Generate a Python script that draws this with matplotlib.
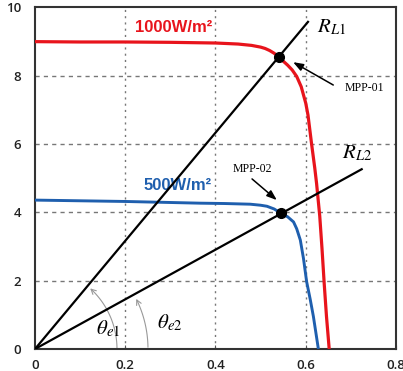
import numpy as np
import matplotlib
matplotlib.use('Agg')
import matplotlib.pyplot as plt

# ---- data ----
v_1000 = [0.00, 0.10, 0.20, 0.30, 0.40, 0.45, 0.48, 0.50, 0.51, 0.52, 0.53, 0.54,
          0.55, 0.56, 0.57, 0.58, 0.59, 0.60, 0.605, 0.613, 0.62, 0.624, 0.631, 0.636,
          0.641, 0.646, 0.652]
i_1000 = [9.00, 8.99, 8.99, 8.98, 8.96, 8.93, 8.89, 8.84, 8.80, 8.74, 8.66, 8.55,
          8.43, 8.31, 8.17, 7.98, 7.68, 7.20, 6.85, 6.00, 5.30, 4.85, 3.90, 2.95,
          1.90, 0.95, 0.00]
v_500 = [0.00, 0.10, 0.20, 0.30, 0.366, 0.42, 0.477, 0.50, 0.514, 0.53, 0.546, 0.56,
         0.573, 0.58, 0.588, 0.595, 0.602, 0.61, 0.617, 0.628]
i_500 = [4.36, 4.34, 4.32, 4.29, 4.27, 4.26, 4.24, 4.21, 4.18, 4.10, 3.97, 3.87,
         3.72, 3.52, 3.19, 2.65, 1.97, 1.45, 0.95, 0.00]
mpp_v = [0.540, 0.546]
mpp_i = [8.55, 3.97]
load_end_v = [0.605, 0.724]
curve_labels = ['1000W/m²', '500W/m²']
load_labels = [r'$R_{L1}$', r'$R_{L2}$']
angle_labels = [r'$\theta_{e1}$', r'$\theta_{e2}$']
mpp_labels = ['MPP-01', 'MPP-02']
x_ticks = [0, 0.2, 0.4, 0.6, 0.8]
y_ticks = [0, 2, 4, 6, 8, 10]

RED = '#e8141c'
BLUE = '#1f5fae'

plt.rcParams['mathtext.fontset'] = 'stix'

fig = plt.figure(figsize=(4.03, 3.71), dpi=100)
ax = fig.add_axes([0.0868, 0.0593, 0.8958, 0.9205])
ax.set_xlim(0, 0.8)
ax.set_ylim(0, 10)

# grid
for xv in x_ticks[1:-1]:
    ax.axvline(xv, color='#777777', lw=1.0, ls=(0, (1.5, 3)), zorder=0)
for yv in y_ticks[1:-1]:
    ax.axhline(yv, color='#777777', lw=1.0, ls=(0, (3, 3)), zorder=0)

# curves
ax.plot(v_1000, i_1000, color=RED, lw=2.3, solid_capstyle='butt', zorder=3)
ax.plot(v_500, i_500, color=BLUE, lw=2.1, solid_capstyle='butt', zorder=3)

# load lines through the MPPs
for mv, mi, ev in zip(mpp_v, mpp_i, load_end_v):
    ax.plot([0, ev], [0, ev * mi / mv], color='black', lw=1.6, zorder=4)
ax.plot(mpp_v, mpp_i, 'o', color='black', ms=7, zorder=5)

# curve labels
ax.text(0.392, 9.40, curve_labels[0], color=RED, fontsize=12, fontweight='bold',
        family='Liberation Sans', ha='right', va='center')
ax.text(0.392, 4.80, curve_labels[1], color=BLUE, fontsize=12, fontweight='bold',
        family='Liberation Sans', ha='right', va='center')

# load line labels
ax.text(0.624, 9.43, load_labels[0], fontsize=15, ha='left', va='center')
ax.text(0.680, 5.74, load_labels[1], fontsize=15, ha='left', va='center')

# angle labels
ax.text(0.135, 0.61, angle_labels[0], fontsize=15, ha='left', va='center')
ax.text(0.270, 0.76, angle_labels[1], fontsize=15, ha='left', va='center')

# MPP annotations
ax.annotate('', xy=(0.572, 8.40), xytext=(0.661, 7.73),
            arrowprops=dict(arrowstyle='-|>,head_length=0.6,head_width=0.22',
                            color='black', lw=1.1, shrinkA=0, shrinkB=0))
ax.text(0.687, 7.64, mpp_labels[0], fontsize=8.5, family='Liberation Serif',
        ha='left', va='center')
ax.annotate('', xy=(0.536, 4.36), xytext=(0.481, 4.98),
            arrowprops=dict(arrowstyle='-|>,head_length=0.6,head_width=0.22',
                            color='black', lw=1.1, shrinkA=0, shrinkB=0))
ax.text(0.481, 5.27, mpp_labels[1], fontsize=8.5, family='Liberation Serif',
        ha='center', va='center')

# angle arcs (circular in display space)
fig.canvas.draw()
o = ax.transData.transform((0, 0))
inv = ax.transData.inverted()
for mv, mi, r in zip(mpp_v, mpp_i, [82, 113]):
    p = ax.transData.transform((mv, mi))
    ang = np.arctan2(p[1] - o[1], p[0] - o[0]) - np.radians(2.5)
    t = np.linspace(np.radians(1), ang, 60)
    pts = np.column_stack([o[0] + r * np.cos(t), o[1] + r * np.sin(t)])
    d = inv.transform(pts)
    ax.plot(d[:-3, 0], d[:-3, 1], color='#999999', lw=0.8, zorder=2)
    ax.annotate('', xy=d[-1], xytext=d[-4],
                arrowprops=dict(arrowstyle='->,head_length=0.35,head_width=0.18',
                                color='#999999', lw=0.8, shrinkA=0, shrinkB=0))

# axes styling
ax.set_xticks(x_ticks)
ax.set_yticks(y_ticks)
ax.set_xticklabels(['0', '0.2', '0.4', '0.6', '0.8'])
ax.set_yticklabels([str(v) for v in y_ticks])
ax.tick_params(axis='x', direction='in', length=3, color='#555555', pad=7,
               labelsize=9.5, labelcolor='#222222')
ax.tick_params(axis='y', direction='in', length=0, pad=10,
               labelsize=9.5, labelcolor='#222222')
for lab in ax.get_xticklabels() + ax.get_yticklabels():
    lab.set_family('Open Sans')
    lab.set_fontweight('semibold')
for s in ax.spines.values():
    s.set_color('#333333')
    s.set_linewidth(1.5)

fig.savefig('out.png', dpi=100)
